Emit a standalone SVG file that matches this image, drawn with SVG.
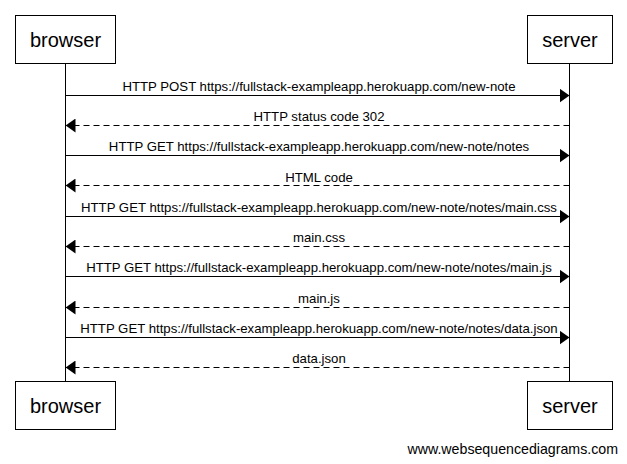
<svg xmlns="http://www.w3.org/2000/svg" width="627" height="464" viewBox="0 0 627 464">
<style>
.box{fill:#fff;stroke:#000;stroke-width:1}
.life{stroke:#000;stroke-width:1}
.t{font-family:"Liberation Sans",Arial,sans-serif;font-size:20px;fill:#000;text-anchor:middle}
.m{font-family:"Liberation Sans",Arial,sans-serif;font-size:13.2px;fill:#000;text-anchor:middle}
.req{stroke:#000;stroke-width:1;fill:none}
.res{stroke:#000;stroke-width:1;fill:none;stroke-dasharray:6,4}
.w{font-family:"Liberation Sans",Arial,sans-serif;font-size:14.2px;fill:#000;text-anchor:end}
</style>
<defs>
<marker id="ah" markerWidth="10" markerHeight="14" refX="10" refY="7" orient="auto" markerUnits="userSpaceOnUse">
<path d="M0,0 L10,7 L0,14 Z" fill="#000"/>
</marker>
</defs>
<rect width="627" height="464" fill="#fff"/>
<g id="lifelines">
<line class="life" x1="65.5" y1="64" x2="65.5" y2="381"/>
<line class="life" x1="569.5" y1="64" x2="569.5" y2="381"/>
</g>
<g id="browser-top"><rect class="box" x="15.5" y="15.5" width="100" height="48"/><text class="t" x="65.5" y="47">browser</text></g>
<g id="server-top"><rect class="box" x="527.5" y="15.5" width="85" height="48"/><text class="t" x="570" y="47">server</text></g>
<g id="browser-bottom"><rect class="box" x="15.5" y="381.5" width="100" height="48"/><text class="t" x="65.5" y="413">browser</text></g>
<g id="server-bottom"><rect class="box" x="527.5" y="381.5" width="85" height="48"/><text class="t" x="570" y="413">server</text></g>
<g id="connectors">
<line class="req" x1="65.5" y1="95.5" x2="569.5" y2="95.5" marker-end="url(#ah)"/>
<line class="res" x1="569.5" y1="125.5" x2="65.5" y2="125.5" marker-end="url(#ah)"/>
<line class="req" x1="65.5" y1="155.5" x2="569.5" y2="155.5" marker-end="url(#ah)"/>
<line class="res" x1="569.5" y1="185.5" x2="65.5" y2="185.5" marker-end="url(#ah)"/>
<line class="req" x1="65.5" y1="216.5" x2="569.5" y2="216.5" marker-end="url(#ah)"/>
<line class="res" x1="569.5" y1="246.5" x2="65.5" y2="246.5" marker-end="url(#ah)"/>
<line class="req" x1="65.5" y1="276.5" x2="569.5" y2="276.5" marker-end="url(#ah)"/>
<line class="res" x1="569.5" y1="307.5" x2="65.5" y2="307.5" marker-end="url(#ah)"/>
<line class="req" x1="65.5" y1="337.5" x2="569.5" y2="337.5" marker-end="url(#ah)"/>
<line class="res" x1="569.5" y1="367.5" x2="65.5" y2="367.5" marker-end="url(#ah)"/>
</g>
<g id="labels">
<text class="m" x="319" y="91">HTTP POST https://fullstack-exampleapp.herokuapp.com/new-note</text>
<text class="m" x="319" y="121">HTTP status code 302</text>
<text class="m" x="319" y="151">HTTP GET https://fullstack-exampleapp.herokuapp.com/new-note/notes</text>
<text class="m" x="319" y="182">HTML code</text>
<text class="m" x="319" y="212">HTTP GET https://fullstack-exampleapp.herokuapp.com/new-note/notes/main.css</text>
<text class="m" x="319" y="242">main.css</text>
<text class="m" x="319" y="272">HTTP GET https://fullstack-exampleapp.herokuapp.com/new-note/notes/main.js</text>
<text class="m" x="319" y="303">main.js</text>
<text class="m" x="319" y="333">HTTP GET https://fullstack-exampleapp.herokuapp.com/new-note/notes/data.json</text>
<text class="m" x="319" y="363">data.json</text>
</g>
<text class="w" x="618" y="454">www.websequencediagrams.com</text>
</svg>
